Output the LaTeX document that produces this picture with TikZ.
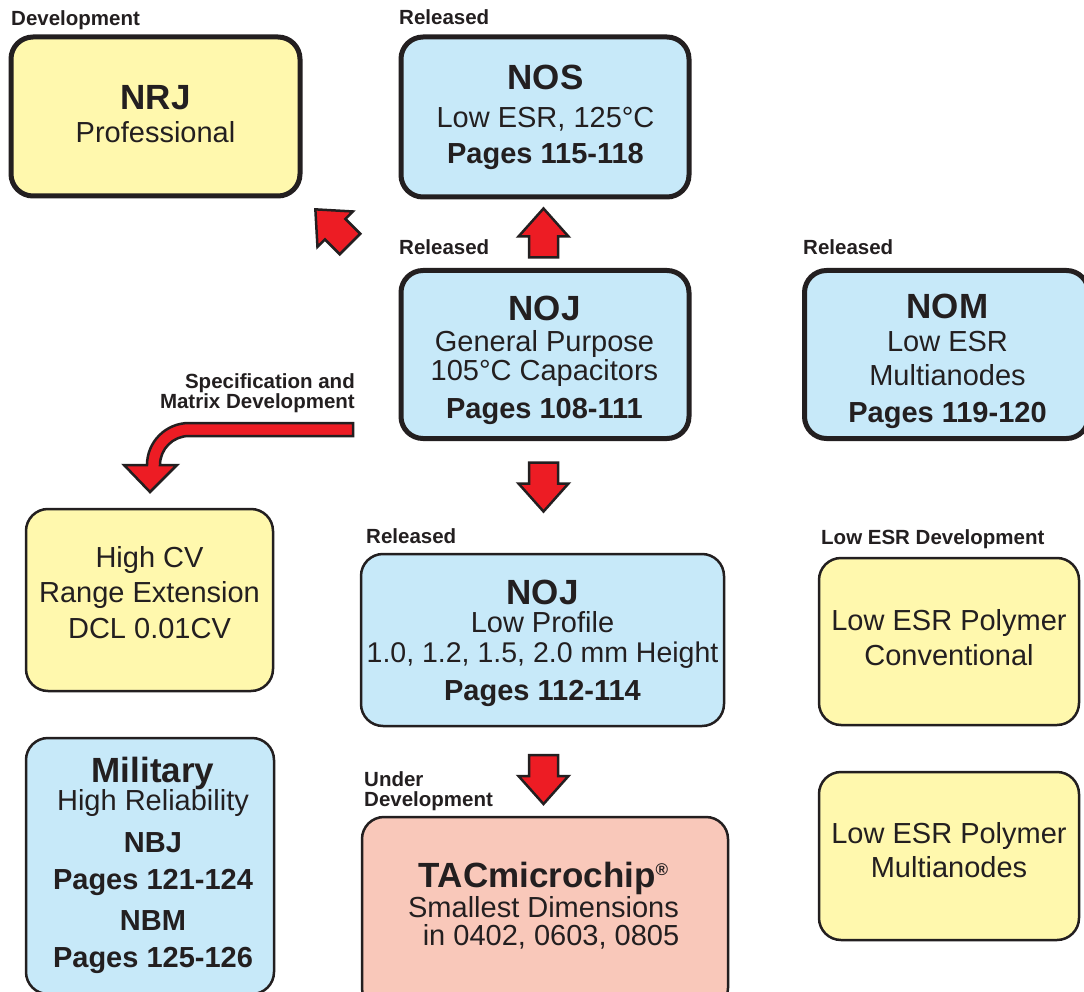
\documentclass[tikz,border=0pt]{standalone}
\usepackage{fontspec}
\setmainfont{Liberation Sans}
\usetikzlibrary{calc}
\definecolor{dark}{RGB}{35,31,32}
\definecolor{boxblue}{RGB}{199,233,249}
\definecolor{boxyellow}{RGB}{255,248,173}
\definecolor{boxpink}{RGB}{249,200,186}
\definecolor{arrred}{RGB}{237,28,36}
\tikzset{
  box/.style={rectangle, rounded corners=22pt, draw=dark, inner sep=0pt, outer sep=0pt},
  thickbox/.style={box, line width=5pt},
  thinbox/.style={box, line width=2.5pt},
  blue/.style={fill=boxblue},
  yel/.style={fill=boxyellow},
  pink/.style={fill=boxpink},
  ttl/.style={font=\fontsize{35}{35}\selectfont\bfseries, text=dark, anchor=base, inner sep=0pt},
  body/.style={font=\fontsize{29}{29}\selectfont, text=dark, anchor=base, inner sep=0pt},
  pg/.style={font=\fontsize{29}{29}\selectfont\bfseries, text=dark, anchor=base, inner sep=0pt},
  lbl/.style={font=\fontsize{20.5}{20}\selectfont\bfseries, text=dark, anchor=base west, inner sep=0pt},
  arrowbody/.style={fill=arrred, draw=dark, line width=2.5pt, line join=miter},
  barrow/.pic={\draw[arrowbody] (0,-14.5) -- (21,-14.5) -- (21,-25) -- (49,0) -- (21,25) -- (21,14.5) -- (0,14.5) -- cycle;}
}
\begin{document}
\begin{tikzpicture}[x=1pt, y={(0pt,-1pt)}]
\useasboundingbox (0,0) rectangle (1084,992);

% boxes
\node[thickbox, yel,  minimum width=289pt, minimum height=159pt] (nrj) at (155.5,116.5) {};
\node[thickbox, blue, minimum width=288pt, minimum height=160pt] (nos) at (545,117) {};
\node[thickbox, blue, minimum width=288pt, minimum height=168pt] (noj) at (545,354.5) {};
\node[thickbox, blue, minimum width=284pt, minimum height=168pt] (nom) at (946.5,354.5) {};
\node[thinbox, yel,  minimum width=247pt, minimum height=182pt] (hcv) at (149.5,600) {};
\node[thinbox, blue, minimum width=363pt, minimum height=172pt] (nojlp) at (542.5,640) {};
\node[thinbox, yel,  minimum width=260pt, minimum height=167pt] (lconv) at (949,641.5) {};
\node[thinbox, yel,  minimum width=260pt, minimum height=168pt] (lmulti) at (949,856) {};
\node[thinbox, blue, minimum width=248pt, minimum height=256pt] (mil) at (150,866) {};
\node[thinbox, pink, minimum width=366pt, minimum height=193pt] (tac) at (545,913.5) {};

% status labels
\node[lbl] (l-nrj) at (11,26) {Development};
\node[lbl] (l-nos) at (399,25) {Released};
\node[lbl] (l-noj) at (399,255) {Released};
\node[lbl] (l-nom) at (803,255) {Released};
\node[lbl, align=right, anchor=south east] (l-spec) at (355,413) {Specification and\\Matrix Development};
\node[lbl] (l-nojlp) at (366,543) {Released};
\node[lbl] (l-lesr) at (821,544) {Low ESR Development};
\node[lbl, align=left, anchor=south west] (l-und) at (364,811.3) {Under\\Development};

% box texts
\node[ttl]  (t-nrj1) at (155.5,110) {NRJ};
\node[body] (t-nrj2) at (155.5,143) {Professional};

\node[ttl]  (t-nos1) at (545.5,90) {NOS};
\node[body] (t-nos2) at (545.5,128) {Low ESR, 125°C};
\node[pg]   (t-nos3) at (545.5,164) {Pages 115-118};

\node[ttl]  (t-noj1) at (544.5,320) {NOJ};
\node[body] (t-noj2) at (544.5,351) {General Purpose};
\node[body] (t-noj3) at (544.5,380) {105°C Capacitors};
\node[pg]   (t-noj4) at (544.5,418) {Pages 108-111};

\node[ttl]  (t-nom1) at (947.5,318) {NOM};
\node[body] (t-nom2) at (947.5,351) {Low ESR};
\node[body] (t-nom3) at (947.5,385) {Multianodes};
\node[pg]   (t-nom4) at (947.5,422) {Pages 119-120};

\node[body] (t-hcv1) at (149.5,567) {High CV};
\node[body] (t-hcv2) at (149.5,602) {Range Extension};
\node[body] (t-hcv3) at (149.5,638) {DCL 0.01CV};

\node[ttl]  (t-lp1) at (542.5,604) {NOJ};
\node[body] (t-lp2) at (542.5,632) {Low Profile};
\node[body, font=\fontsize{28.5}{28.5}\selectfont] (t-lp3) at (542.5,662) {1.0, 1.2, 1.5, 2.0 mm Height};
\node[pg]   (t-lp4) at (542.5,700) {Pages 112-114};

\node[body] (t-lc1) at (949,630) {Low ESR Polymer};
\node[body] (t-lc2) at (949,665) {Conventional};

\node[body] (t-lm1) at (949,843) {Low ESR Polymer};
\node[body] (t-lm2) at (949,877) {Multianodes};

\node[ttl]  (t-mil1) at (153,782) {Military};
\node[body] (t-mil2) at (153,810) {High Reliability};
\node[pg]   (t-mil3) at (153,852) {NBJ};
\node[pg]   (t-mil4) at (153,889) {Pages 121-124};
\node[pg]   (t-mil5) at (153,930) {NBM};
\node[pg]   (t-mil6) at (153,967) {Pages 125-126};

\node[ttl]  (t-tac1) at (543.5,887) {TACmicrochip\raisebox{12pt}{\fontsize{17}{17}\selectfont ®}};
\node[body] (t-tac2) at (543.5,917) {Smallest Dimensions};
\node[body] (t-tac3) at (551,945) {in 0402, 0603, 0805};

% block arrows
\coordinate (a-up) at ($(noj.north)+(-1.5,-13)$);
\coordinate (a-diag) at (350,244);
\coordinate (a-dn1) at ($(noj.south)+(-1.5,24)$);
\coordinate (a-dn2) at ($(nojlp.south)+(1,29)$);
\pic[rotate=90] at (a-up) {barrow};
\pic[rotate=135] at (a-diag) {barrow};
\pic[rotate=-90] at (a-dn1) {barrow};
\pic[rotate=-90] at (a-dn2) {barrow};

% curved arrow
\coordinate (c-start) at (353,429.5);
\draw[arrowbody] ($(c-start)+(0,-6.5)$) -- (189,423) .. controls (165.8,423) and (147,441.8) .. (147,465)
  -- (124,465) -- (150,492) -- (177,465) -- (160,465)
  .. controls (160,449) and (173,436) .. (189,436) -- ($(c-start)+(0,6.5)$) -- cycle;
\end{tikzpicture}
\end{document}
